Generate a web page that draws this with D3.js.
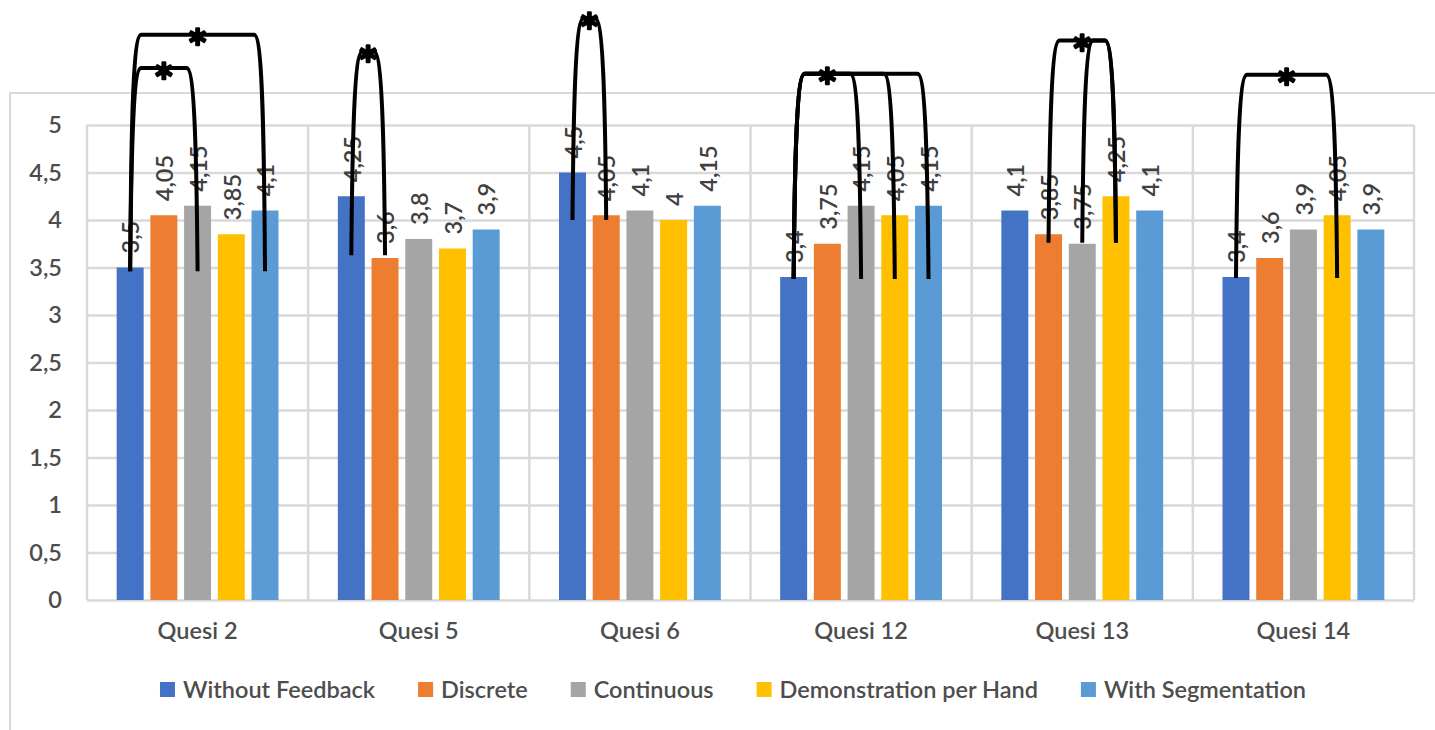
<!DOCTYPE html>
<html>
<head>
<meta charset="utf-8">
<script src="https://cdn.jsdelivr.net/npm/d3@7"></script>
<style>
  body { margin: 0; background: #ffffff; }
  svg { display: block; }
  text { font-family: Lato, "Open Sans", sans-serif; font-weight: 600; }
</style>
</head>
<body>
<svg id="chart" width="1435" height="730"></svg>
<script>
// ---- data -------------------------------------------------------------
const categories = ["Quesi 2", "Quesi 5", "Quesi 6", "Quesi 12", "Quesi 13", "Quesi 14"];
const seriesNames = ["Without Feedback", "Discrete", "Continuous", "Demonstration per Hand", "With Segmentation"];
const withoutFeedback      = [3.5, 4.25, 4.5, 3.4, 4.1, 3.4];
const discrete             = [4.05, 3.6, 4.05, 3.75, 3.85, 3.6];
const continuous           = [4.15, 3.8, 4.1, 4.15, 3.75, 3.9];
const demonstrationPerHand = [3.85, 3.7, 4, 4.05, 4.25, 4.05];
const withSegmentation     = [4.1, 3.9, 4.15, 4.15, 4.1, 3.9];
const yTicks = [0, 0.5, 1, 1.5, 2, 2.5, 3, 3.5, 4, 4.5, 5];

// significance brackets: category, the two series compared,
// bracket height and foot level in axis units, and whether it carries the star
const bracketCategory = ["Quesi 2", "Quesi 2", "Quesi 5", "Quesi 6", "Quesi 12", "Quesi 12", "Quesi 12", "Quesi 13", "Quesi 13", "Quesi 14"];
const bracketFrom     = [0, 0, 0, 0, 0, 0, 0, 1, 2, 0];
const bracketTo       = [2, 4, 1, 1, 2, 3, 4, 3, 3, 3];
const bracketTop      = [5.6, 5.95, 5.77, 6.12, 5.54, 5.54, 5.54, 5.89, 5.89, 5.53];
const bracketFoot     = [3.46, 3.46, 3.63, 4.0, 3.38, 3.38, 3.38, 3.76, 3.76, 3.39];
const bracketStar     = [true, true, true, true, true, false, false, true, false, true];

const seriesValues = [withoutFeedback, discrete, continuous, demonstrationPerHand, withSegmentation];
const seriesColors = ["#4472C4", "#ED7D31", "#A5A5A5", "#FFC000", "#5B9BD5"];

const rows = categories.map((c, i) => ({
  category: c,
  values: seriesNames.map((s, j) => ({ series: j, value: seriesValues[j][i] }))
}));

// ---- layout -----------------------------------------------------------
const svg = d3.select("#chart");
const plot = { left: 87, right: 1414, top: 125, bottom: 600 };
const gridColor = "#d9d9d9";
const textColor = "#4d4d4d";
const fontFamily = "Lato, 'Open Sans', sans-serif";
const fontSize = 23.5;

const x0 = d3.scaleBand().domain(categories).range([plot.left, plot.right]).padding(0);
const x1 = d3.scaleBand().domain(d3.range(seriesNames.length))
  .range([0, x0.bandwidth()]).paddingInner(0.2).paddingOuter(0.88);
const y = d3.scaleLinear().domain([0, 5]).range([plot.bottom, plot.top]);

// chart frame
svg.append("rect")
  .attr("x", 10).attr("y", 93).attr("width", 1450).attr("height", 680)
  .attr("fill", "none").attr("stroke", gridColor).attr("stroke-width", 2);

// horizontal gridlines + y labels
const yAxis = d3.axisLeft(y).tickValues(yTicks)
  .tickSize(-(plot.right - plot.left))
  .tickPadding(25)
  .tickFormat(d => String(d).replace(".", ","));
const gy = svg.append("g").attr("transform", `translate(${plot.left},0)`).call(yAxis);
gy.select(".domain").remove();
gy.selectAll(".tick line").attr("stroke", gridColor).attr("stroke-width", 2.5);
gy.selectAll(".tick text")
  .attr("fill", textColor).attr("font-size", fontSize)
  .attr("font-family", fontFamily).attr("font-weight", 600);

// vertical separators between categories
const bounds = categories.map(c => x0(c)).concat([plot.right]);
svg.append("g").selectAll("line").data(bounds).join("line")
  .attr("x1", d => d).attr("x2", d => d)
  .attr("y1", plot.top).attr("y2", plot.bottom)
  .attr("stroke", gridColor).attr("stroke-width", 2.5);

// x labels
const xAxis = d3.axisBottom(x0).tickSize(0).tickPadding(22);
const gx = svg.append("g").attr("transform", `translate(0,${plot.bottom})`).call(xAxis);
gx.select(".domain").remove();
gx.selectAll(".tick text")
  .attr("fill", textColor).attr("font-size", fontSize)
  .attr("font-family", fontFamily).attr("font-weight", 600);

// bars
const groups = svg.append("g").selectAll("g").data(rows).join("g")
  .attr("transform", d => `translate(${x0(d.category)},0)`);
groups.selectAll("rect").data(d => d.values).join("rect")
  .attr("x", d => x1(d.series))
  .attr("y", d => y(d.value))
  .attr("width", x1.bandwidth())
  .attr("height", d => y(0) - y(d.value))
  .attr("fill", d => seriesColors[d.series]);

// value labels, rotated
groups.selectAll("text.val").data(d => d.values).join("text")
  .attr("class", "val")
  .attr("transform", d => `translate(${x1(d.series) + x1.bandwidth() / 2 + 1},${y(d.value) - 14}) rotate(-90)`)
  .attr("dy", "0.35em")
  .attr("fill", "#404040")
  .attr("font-size", fontSize)
  .text(d => String(d.value).replace(".", ","));

// significance brackets
const barCenter = (cat, s) => x0(cat) + x1(s) + x1.bandwidth() / 2;
const brackets = bracketCategory.map((c, i) => ({
  xa: barCenter(c, bracketFrom[i]),
  xb: barCenter(c, bracketTo[i]),
  yt: y(bracketTop[i]),
  yb: y(bracketFoot[i]),
  star: bracketStar[i]
}));
const bracketPath = b => {
  const p = d3.path();
  p.moveTo(b.xa, b.yb);
  p.bezierCurveTo(b.xa + 1, b.yt + 85, b.xa + 3, b.yt, b.xa + 11, b.yt);
  p.lineTo(b.xb - 11, b.yt);
  p.bezierCurveTo(b.xb - 3, b.yt, b.xb - 1, b.yt + 85, b.xb, b.yb);
  return p.toString();
};
svg.append("g").selectAll("path").data(brackets).join("path")
  .attr("d", bracketPath)
  .attr("fill", "none").attr("stroke", "#000").attr("stroke-width", 4)
  .attr("stroke-linejoin", "round");
svg.append("g").selectAll("text").data(brackets.filter(b => b.star)).join("text")
  .attr("x", b => (b.xa + b.xb) / 2)
  .attr("y", b => b.yt)
  .attr("dy", "0.63em")
  .attr("text-anchor", "middle")
  .attr("font-family", "'Liberation Sans', Arial, sans-serif")
  .attr("font-size", 50).attr("font-weight", "bold")
  .attr("fill", "#000")
  .attr("stroke", "#000").attr("stroke-width", 2.4).attr("stroke-linejoin", "round")
  .text("*");

// legend
const legend = svg.append("g");
const items = legend.selectAll("g").data(seriesNames).join("g");
items.append("rect").attr("width", 15).attr("height", 15).attr("y", -8)
  .attr("fill", (d, i) => seriesColors[i]);
items.append("text").attr("x", 23).attr("dy", "0.35em")
  .attr("fill", textColor).attr("font-size", fontSize).text(d => d);
const widths = [];
items.each(function () { widths.push(23 + d3.select(this).select("text").node().getComputedTextLength()); });
const gap = 43;
const total = d3.sum(widths) + gap * (widths.length - 1);
let cx = 733 - total / 2;
items.attr("transform", (d, i) => {
  const t = `translate(${cx},690)`;
  cx += widths[i] + gap;
  return t;
});
</script>
</body>
</html>
